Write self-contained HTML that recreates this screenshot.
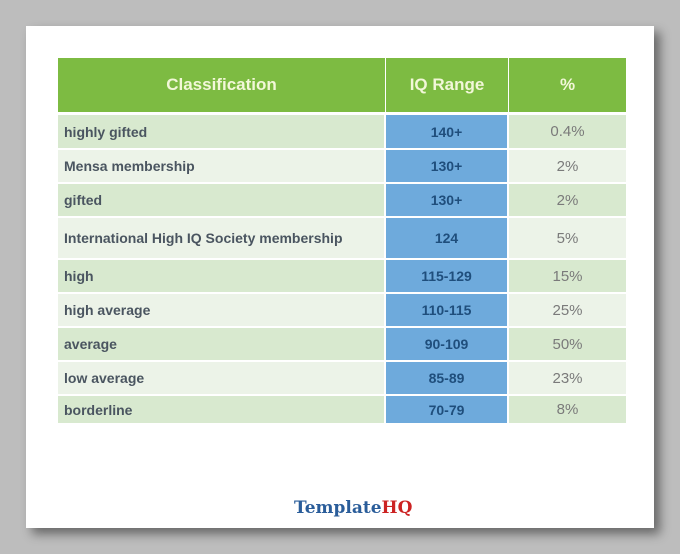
<!DOCTYPE html>
<html><head><meta charset="utf-8"><style>
body{margin:0;width:680px;height:554px;background:#bdbdbd;position:relative;overflow:hidden;font-family:"Liberation Sans","DejaVu Sans",sans-serif}
#page{position:absolute;left:26px;top:26px;width:628px;height:502px;background:#fff;box-shadow:6px 6px 10px rgba(0,0,0,.45)}
.c{position:absolute;box-sizing:border-box;display:flex;align-items:center;font-size:14px;font-weight:bold}
.h{background:#7dbb42;color:#f2f7d8;justify-content:center;font-size:17px}
.l{padding-left:6px;color:#4a5560}
.q{background:#6eaadc;color:#1f4e7c;justify-content:center}
.p{justify-content:center;color:#7a7a7a;font-weight:normal;font-size:15px}
#logo{position:absolute;left:294px;top:498px;font-family:"DejaVu Serif",serif;font-weight:bold;font-size:17px;color:#2a5d9a}
#logo span{color:#cc2222}
</style></head><body>
<div id="page"></div>
<div id="tbl"></div>
<div id="logo">Template<span>HQ</span></div>
<script>
const classifications=["highly gifted","Mensa membership","gifted","International High IQ Society membership","high","high average","average","low average","borderline"];
const ranges=["140+","130+","130+","124","115-129","110-115","90-109","85-89","70-79"];
const percents=["0.4%","2%","2%","5%","15%","25%","50%","23%","8%"];
const rowBounds=[114,149,183,217,259,293,327,361,395,424];
const cols=[58,385,508,626];
const t=document.getElementById('tbl');
function cell(x,y,w,h,cls,txt,bg,name){
 const d=document.createElement('div');d.className='c '+cls;
 d.style.left=x+'px';d.style.top=y+'px';d.style.width=w+'px';d.style.height=h+'px';
 if(bg)d.style.background=bg;d.textContent=txt;
 
 
 document.body.appendChild(d);
}
const heads=["Classification","IQ Range","%"];
for(let j=0;j<3;j++)cell(cols[j]+(j?1:0),58,cols[j+1]-cols[j]-(j?1:0),54,'h',heads[j],null,'header-'+j);
for(let i=0;i<classifications.length;i++){
 const y=rowBounds[i]+1,h=rowBounds[i+1]-rowBounds[i]-2;
 const bg=i%2==0?'#d8e9cf':'#ecf3e8';
 cell(cols[0],y,cols[1]-cols[0]-1,h,'l',classifications[i],bg,'classification-cell');
 cell(cols[1]+1,y,cols[2]-cols[1]-2,h,'q',ranges[i],null,'iq-range-cell');
 cell(cols[2]+1,y,cols[3]-cols[2]-1,h,'p',percents[i],bg,'percent-cell');
}
</script>
</body></html>
